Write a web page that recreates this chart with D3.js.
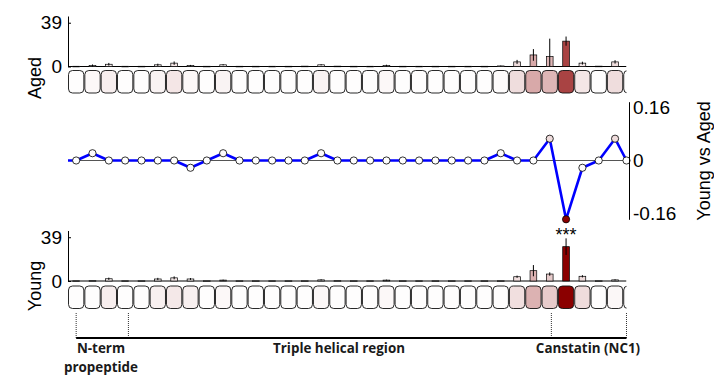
<!DOCTYPE html>
<html>
<head>
<meta charset="utf-8">
<script src="https://cdn.jsdelivr.net/npm/d3@7/dist/d3.min.js"></script>
<style>
  body { margin: 0; background: #fff; }
  svg { display: block; }
  text { font-family: "Liberation Sans", Arial, sans-serif; }
</style>
</head>
<body>
<div id="chart"></div>
<script>
// peptide segment means (aged / young) with error, and young-vs-aged difference
const agedMean = [0.2, 0.8, 2, 0.2, 0.2, 1.5, 3, 0.8, 0.2, 1.5, 0.2, 0.2, 0.2, 0.2, 0.3, 1.5, 0.3, 0.2,
  0.2, 0.8, 0.2, 0.2, 0.2, 0.2, 0.2, 0.2, 0.5, 4.1, 10.3, 8.8, 22.6, 3.0, 0.3, 4.1, 0.2]
const agedErr = [0, 1, 1.2, 0, 0, 1, 1.5, 0.6, 0, 0.5, 0, 0, 0, 0, 0, 0.5, 0, 0,
  0, 0.8, 0, 0, 0, 0, 0, 0, 0.3, 1.8, 5.2, 16, 4.1, 1.3, 0, 1.5, 0]
const youngMean = [0.2, 0.3, 2, 0.2, 0.2, 1.8, 2.8, 1.8, 0.2, 0.8, 0.2, 0.2, 0.2, 0.2, 0.2, 1, 0.3, 0.2,
  0.2, 0.8, 0.2, 0.2, 0.2, 0.2, 0.2, 0.2, 0.2, 3.8, 9.2, 6.2, 30.6, 4.2, 0.2, 1, 0.2]
const youngErr = [0, 0, 1, 0, 0, 1, 1.3, 0.8, 0, 0.4, 0, 0, 0, 0, 0, 0.5, 0, 0,
  0, 0.4, 0, 0, 0, 0, 0, 0, 0, 1, 5, 1.5, 7.4, 1, 0, 0.5, 0]
const diffYvA = [0, 0.022, 0, 0, 0, 0, 0, -0.022, 0, 0.022, 0, 0, 0, 0, 0, 0.022, 0, 0,
  0, 0, 0, 0, 0, 0, 0, 0, 0.022, 0, 0, 0.066, -0.178, -0.022, 0, 0.066, 0]
const barTicks = [0, 39]
const diffTicks = [-0.16, 0, 0.16]
const regionBounds = [0, 3.2, 29.1, 33.7]
const regionNames = ['N-term|propeptide', 'Triple helical region', 'Canstatin (NC1)']
const sigIndex = 30

const W = 714, H = 382
const left = 68, right = 626.5, axisRight = 629
const svg = d3.select('#chart').append('svg').attr('width', W).attr('height', H)

svg.append('defs').append('clipPath').attr('id', 'clip')
  .append('rect').attr('x', left - 2).attr('y', 0).attr('width', right - left + 2).attr('height', H)

const x = d3.scaleBand().domain(d3.range(agedMean.length)).range([left, left + 35 * 16.33]).padding(0)
const bw = x.bandwidth()
const cx = i => Math.min(x(i) + bw / 2, right)
const color = d3.scaleLinear().domain([0, d3.max(youngMean)]).range(['#ffffff', '#8b0000'])

function panel(mean, err, base, top, cellY, label, labelY) {
  const y = d3.scaleLinear().domain([0, 45]).range([base, top])
  const rows = mean.map((v, i) => ({ i, v, e: err[i] }))
  const g = svg.append('g')
  const inner = g.append('g').attr('clip-path', 'url(#clip)')

  inner.selectAll('rect.cell').data(rows).join('rect')
    .attr('class', 'cell')
    .attr('x', d => x(d.i) + 0.5).attr('y', cellY)
    .attr('width', bw - 1).attr('height', 22.5)
    .attr('rx', 4)
    .attr('fill', d => color(d.v))
    .attr('stroke', '#111').attr('stroke-width', 0.9)

  inner.append('line').attr('x1', left).attr('x2', right).attr('y1', base).attr('y2', base)
    .attr('stroke', '#000').attr('stroke-width', 1)

  const barW = bw * 0.41
  inner.selectAll('rect.bar').data(rows).join('rect')
    .attr('class', 'bar')
    .attr('x', d => x(d.i) + (bw - barW) / 2)
    .attr('y', d => y(d.v))
    .attr('width', barW)
    .attr('height', d => Math.max(base - y(d.v), 0.6))
    .attr('fill', d => color(d.v))
    .attr('stroke', '#000').attr('stroke-width', 0.7)

  inner.selectAll('line.err').data(rows.filter(d => d.e > 0)).join('line')
    .attr('class', 'err')
    .attr('x1', d => x(d.i) + bw / 2).attr('x2', d => x(d.i) + bw / 2)
    .attr('y1', d => y(Math.max(0, d.v - d.e)))
    .attr('y2', d => y(d.v + d.e))
    .attr('stroke', '#000').attr('stroke-width', 1)

  const ax = g.append('g').attr('transform', `translate(${left},0)`)
    .call(d3.axisLeft(y).tickValues(barTicks).tickSize(-3).tickSizeOuter(0).tickPadding(6).tickFormat(d => String(d)))
  ax.select('.domain').attr('stroke', '#000')
  ax.selectAll('text').style('font-size', '19px').attr('fill', '#000')
  ax.selectAll('.tick line').attr('stroke', '#000')

  g.append('text')
    .attr('transform', `translate(41,${labelY}) rotate(-90)`)
    .attr('text-anchor', 'middle')
    .style('font-size', '18px')
    .text(label)
}

panel(agedMean, agedErr, 66.5, 16, 70.5, 'Aged', 78)
panel(youngMean, youngErr, 281, 230.5, 286, 'Young', 286)

// middle: young vs aged
const yd = d3.scaleLinear().domain([-0.178, 0.178]).range([219.3, 101.7])
const mid = svg.append('g')
mid.append('line').attr('x1', left).attr('x2', axisRight).attr('y1', yd(0)).attr('y2', yd(0))
  .attr('stroke', '#555').attr('stroke-width', 1.2)

const pts = [[left, yd(0)]].concat(diffYvA.map((d, i) => [cx(i), yd(d)]))
mid.append('path').attr('d', d3.line()(pts))
  .attr('fill', 'none').attr('stroke', '#0000ff').attr('stroke-width', 2.6).attr('stroke-linejoin', 'round')

const mColor = d3.scalePow().exponent(2).domain([0, 0.178]).range(['#ffffff', '#8b0000'])
mid.selectAll('circle').data(diffYvA).join('circle')
  .attr('cx', (d, i) => cx(i)).attr('cy', d => yd(d)).attr('r', 3.6)
  .attr('fill', d => mColor(Math.abs(d)))
  .attr('stroke', '#000').attr('stroke-width', 0.8)

mid.append('text')
  .attr('x', cx(sigIndex)).attr('y', yd(diffYvA[sigIndex]) + 22)
  .attr('text-anchor', 'middle').style('font-size', '18px')
  .text('***')

const rax = mid.append('g').attr('transform', `translate(${axisRight},0)`)
  .call(d3.axisRight(yd).tickValues(diffTicks).tickSize(0).tickSizeOuter(0).tickPadding(4).tickFormat(d => String(d)))
rax.select('.domain').attr('stroke', '#000')
rax.selectAll('text').style('font-size', '19px').attr('fill', '#000')

mid.append('text')
  .attr('transform', `translate(710,161) rotate(-90)`)
  .attr('text-anchor', 'middle')
  .style('font-size', '18px')
  .text('Young vs Aged')

// regions along the sequence
const xr = d => x(0) + bw / 2 + d * bw
const ann = svg.append('g')
ann.selectAll('line.mark').data(regionBounds).join('line')
  .attr('class', 'mark')
  .attr('x1', d => xr(d)).attr('x2', d => xr(d))
  .attr('y1', 313).attr('y2', 338)
  .attr('stroke', '#333').attr('stroke-width', 1).attr('stroke-dasharray', '1,1')
ann.append('line')
  .attr('x1', xr(regionBounds[0])).attr('x2', xr(regionBounds[regionBounds.length - 1]))
  .attr('y1', 338).attr('y2', 338)
  .attr('stroke', '#000').attr('stroke-width', 2)

const labelX = [101, 339, 588]
regionNames.forEach((name, k) => {
  const t = ann.append('text')
    .attr('x', labelX[k]).attr('y', 352.8)
    .attr('text-anchor', 'middle')
    .style('font-family', '"Open Sans", sans-serif')
    .style('font-weight', 'bold')
    .style('font-size', '13.4px')
    .attr('fill', '#1a1a1a')
  name.split('|').forEach((s, j) => {
    t.append('tspan').attr('x', labelX[k]).attr('dy', j ? 19.4 : 0).text(s)
  })
})
</script>
</body>
</html>
